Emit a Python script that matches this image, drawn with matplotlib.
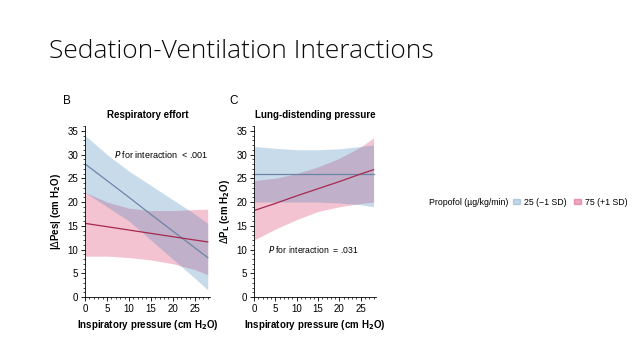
import numpy as np
import matplotlib.pyplot as plt
from matplotlib.ticker import MultipleLocator
from matplotlib.patches import Patch

# values (x = inspiratory pressure, cm H2O)
x_pts = [0, 5, 10, 15, 20, 25, 28]

# panel B: respiratory effort
b_blue_line = [28.0, 24.5, 21.0, 17.4, 13.9, 10.4, 8.3]
b_blue_hi = [34.0, 30.0, 26.5, 23.5, 20.5, 17.5, 15.5]
b_blue_lo = [22.0, 19.0, 16.0, 12.0, 8.0, 4.0, 1.5]
b_red_line = [15.5, 14.8, 14.1, 13.4, 12.7, 12.0, 11.6]
b_red_hi = [22.0, 20.0, 18.7, 18.2, 18.2, 18.4, 18.5]
b_red_lo = [8.6, 8.6, 8.3, 7.8, 7.0, 5.8, 4.7]

# panel C: lung-distending pressure
c_blue_line = [26.0, 26.0, 26.0, 26.0, 26.0, 26.0, 26.0]
c_blue_hi = [31.7, 31.3, 31.0, 31.0, 31.2, 31.7, 32.0]
c_blue_lo = [20.0, 20.0, 20.0, 20.0, 19.8, 19.4, 19.0]
c_red_line = [18.2, 19.7, 21.3, 22.8, 24.3, 25.9, 26.8]
c_red_hi = [24.5, 25.0, 26.0, 27.4, 29.2, 31.6, 33.5]
c_red_lo = [12.0, 14.3, 16.3, 18.0, 19.0, 19.7, 20.0]

# fills with low alpha so the overlap comes out purple-grey
blue_fill = '#3a7fb4'
red_fill = '#d82a5e'
fill_alpha = 0.28
blue_line = '#6a86a6'
red_line = '#a5294f'

plt.rcParams['font.family'] = ['Liberation Sans', 'DejaVu Sans']

fig = plt.figure(figsize=(6.4, 3.6), dpi=100)
fig.text(0.077, 0.838, 'Sedation-Ventilation Interactions', fontsize=19,
         family='Open Sans', fontweight='light', color='#0a0a0a', va='baseline')


def panel(rect, bl, bh, blo, rl, rh, rlo, title, ylabel):
    ax = fig.add_axes(rect)
    ax.fill_between(x_pts, rlo, rh, color=red_fill, alpha=fill_alpha, lw=0)
    ax.fill_between(x_pts, blo, bh, color=blue_fill, alpha=fill_alpha, lw=0)
    ax.plot(x_pts, bl, color=blue_line, lw=0.9)
    ax.plot(x_pts, rl, color=red_line, lw=0.9)
    ax.set_xlim(0, 28.5)
    ax.set_ylim(0, 36)
    ax.xaxis.set_major_locator(MultipleLocator(5))
    ax.yaxis.set_major_locator(MultipleLocator(5))
    ax.xaxis.set_minor_locator(MultipleLocator(1))
    ax.yaxis.set_minor_locator(MultipleLocator(1))
    ax.tick_params(labelsize=7, length=3, width=0.6, pad=2)
    ax.tick_params(which='minor', length=1.5, width=0.5)
    for s in ['top', 'right']:
        ax.spines[s].set_visible(False)
    for s in ['left', 'bottom']:
        ax.spines[s].set_linewidth(0.6)
    ax.set_title(title, fontsize=7, fontweight='bold', pad=6)
    ax.set_ylabel(ylabel, fontsize=7, fontweight='bold', labelpad=3)
    ax.set_xlabel('Inspiratory pressure (cm H$_\\mathbf{2}$O)', fontsize=7,
                  fontweight='bold', labelpad=3)
    return ax


axB = panel([0.133, 0.175, 0.195, 0.475], b_blue_line, b_blue_hi, b_blue_lo,
            b_red_line, b_red_hi, b_red_lo, 'Respiratory effort',
            '|$\\Delta$Pes| (cm H$_\\mathbf{2}$O)')
axB.text(6.5, 30, '$P$ for interaction  < .001', fontsize=6.5, va='center')
fig.text(0.098, 0.71, 'B', fontsize=8.5)

axC = panel([0.397, 0.175, 0.19, 0.475], c_blue_line, c_blue_hi, c_blue_lo,
            c_red_line, c_red_hi, c_red_lo, 'Lung-distending pressure',
            '$\\Delta$P$_\\mathbf{L}$ (cm H$_\\mathbf{2}$O)')
axC.text(3.2, 10, '$P$ for interaction  = .031', fontsize=6.2, va='center')
fig.text(0.358, 0.71, 'C', fontsize=8.5)

handles = [Patch(color=blue_fill, alpha=0.3), Patch(color=red_fill, alpha=0.4)]
fig.legend(handles, ['25 (\u22121 SD)', '75 (+1 SD)'], loc='center left',
           bbox_to_anchor=(0.79, 0.438), ncol=2, frameon=False, fontsize=6.3,
           handlelength=0.8, handleheight=0.4, handletextpad=0.4, columnspacing=0.9)
fig.text(0.794, 0.438, 'Propofol (\u00b5g/kg/min)', fontsize=6.3, ha='right', va='center')

fig.savefig('out.png', dpi=100)
